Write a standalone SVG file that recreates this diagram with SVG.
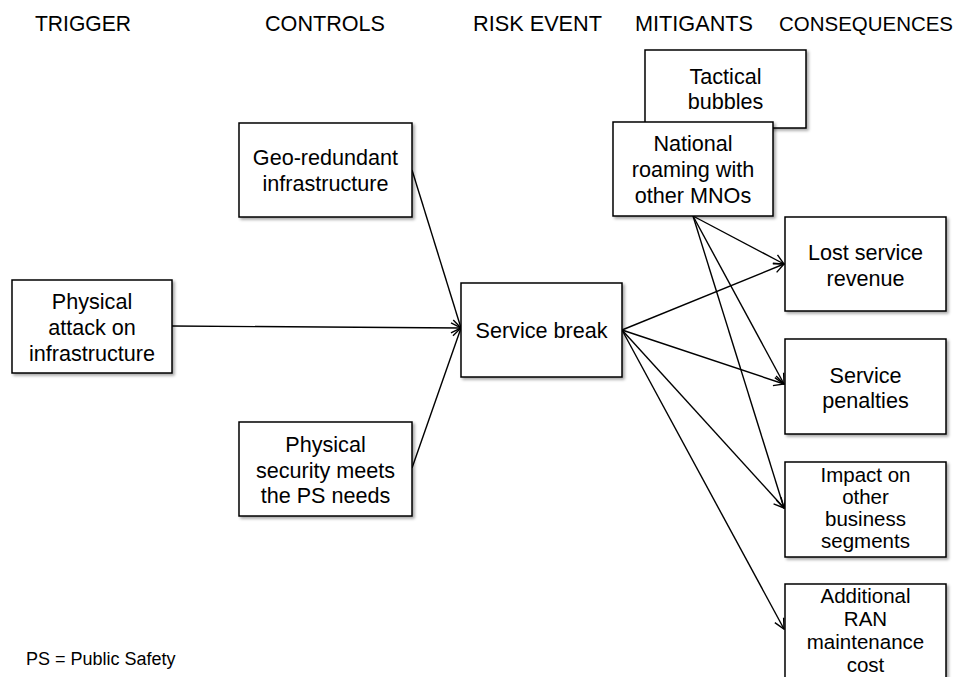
<svg xmlns="http://www.w3.org/2000/svg" width="961" height="677" viewBox="0 0 961 677">
  <style>
    .hdr { font-family: "Liberation Sans", Arial, sans-serif; font-size: 22px; fill: #000; }
    .hdr-last { font-size: 20.5px; }
    .lbl { font-family: "Liberation Sans", Arial, sans-serif; font-size: 21.6px; fill: #000; text-anchor: middle; }
    .tight { font-size: 20.5px; }
    .note { font-family: "Liberation Sans", Arial, sans-serif; font-size: 18px; fill: #000; }
    .box { fill: #fff; stroke: #000; stroke-width: 1.5; filter: url(#shadow); }
    .edge { fill: none; stroke: #000; stroke-width: 1.4; marker-end: url(#arrow); }
  </style>
  <defs>
    <filter id="shadow" x="-10%" y="-10%" width="130%" height="130%">
      <feGaussianBlur in="SourceAlpha" stdDeviation="1.5"/>
      <feOffset dx="1.5" dy="2" result="off"/>
      <feComponentTransfer><feFuncA type="linear" slope="0.35"/></feComponentTransfer>
      <feMerge><feMergeNode/><feMergeNode in="SourceGraphic"/></feMerge>
    </filter>
    <marker id="arrow" viewBox="0 0 12 12" refX="11" refY="6" markerWidth="12" markerHeight="12" markerUnits="userSpaceOnUse" orient="auto">
      <path d="M1,1 L11,6 L1,11" fill="none" stroke="#000" stroke-width="1.4"/>
    </marker>
  </defs>

  <rect width="961" height="677" fill="#fff"/>

  <!-- column headings (condensed to fit each column) -->
  <g id="headers">
    <text class="hdr" x="35" y="31" textLength="96" lengthAdjust="spacingAndGlyphs">TRIGGER</text>
    <text class="hdr" x="265" y="31" textLength="120" lengthAdjust="spacingAndGlyphs">CONTROLS</text>
    <text class="hdr" x="473" y="31" textLength="129" lengthAdjust="spacingAndGlyphs">RISK EVENT</text>
    <text class="hdr" x="635" y="31" textLength="118" lengthAdjust="spacingAndGlyphs">MITIGANTS</text>
    <text class="hdr hdr-last" x="779" y="31" textLength="174" lengthAdjust="spacingAndGlyphs">CONSEQUENCES</text>
  </g>

  <!-- connectors -->
  <g id="connectors">
    <line class="edge" x1="172" y1="326" x2="461" y2="328"/>
    <line class="edge" x1="412" y1="170" x2="461" y2="328"/>
    <line class="edge" x1="412" y1="468" x2="461" y2="328"/>
    <line class="edge" x1="622" y1="330" x2="784" y2="264"/>
    <line class="edge" x1="622" y1="330" x2="784" y2="384"/>
    <line class="edge" x1="622" y1="330" x2="784" y2="508"/>
    <line class="edge" x1="622" y1="330" x2="784" y2="629"/>
    <line class="edge" x1="693" y1="216" x2="784" y2="264"/>
    <line class="edge" x1="693" y1="216" x2="784" y2="384"/>
    <line class="edge" x1="693" y1="216" x2="784" y2="508"/>
  </g>

  <g id="trigger">
    <rect class="box" x="12" y="280" width="160" height="93"/>
    <text class="lbl" x="92" y="309">Physical</text>
    <text class="lbl" x="92" y="335">attack on</text>
    <text class="lbl" x="92" y="361">infrastructure</text>
  </g>

  <g id="control-geo">
    <rect class="box" x="239" y="123" width="173" height="94"/>
    <text class="lbl" x="325.5" y="165">Geo-redundant</text>
    <text class="lbl" x="325.5" y="191">infrastructure</text>
  </g>

  <g id="control-security">
    <rect class="box" x="239" y="422" width="173" height="94"/>
    <text class="lbl" x="325.5" y="452">Physical</text>
    <text class="lbl" x="325.5" y="477.5">security meets</text>
    <text class="lbl" x="325.5" y="503">the PS needs</text>
  </g>

  <g id="risk-event">
    <rect class="box" x="461" y="283" width="161" height="94"/>
    <text class="lbl" x="541.5" y="338">Service break</text>
  </g>

  <g id="mitigant-tactical">
    <rect class="box" x="645" y="50" width="161" height="78"/>
    <text class="lbl" x="725.5" y="84">Tactical</text>
    <text class="lbl" x="725.5" y="109">bubbles</text>
  </g>

  <g id="mitigant-roaming">
    <rect class="box" x="613" y="122" width="160" height="94"/>
    <text class="lbl" x="693" y="151">National</text>
    <text class="lbl" x="693" y="177">roaming with</text>
    <text class="lbl" x="693" y="203">other MNOs</text>
  </g>

  <g id="consequence-revenue">
    <rect class="box" x="785" y="217" width="161" height="94"/>
    <text class="lbl" x="865.5" y="260">Lost service</text>
    <text class="lbl" x="865.5" y="286">revenue</text>
  </g>

  <g id="consequence-penalties">
    <rect class="box" x="785" y="339" width="161" height="95"/>
    <text class="lbl" x="865.5" y="383">Service</text>
    <text class="lbl" x="865.5" y="408">penalties</text>
  </g>

  <g id="consequence-impact">
    <rect class="box" x="785" y="462" width="161" height="95"/>
    <text class="lbl tight" x="865.5" y="482">Impact on</text>
    <text class="lbl tight" x="865.5" y="504">other</text>
    <text class="lbl tight" x="865.5" y="526">business</text>
    <text class="lbl tight" x="865.5" y="548">segments</text>
  </g>

  <g id="consequence-ran">
    <rect class="box" x="785" y="584" width="161" height="110"/>
    <text class="lbl tight" x="865.5" y="603">Additional</text>
    <text class="lbl tight" x="865.5" y="626">RAN</text>
    <text class="lbl tight" x="865.5" y="649">maintenance</text>
    <text class="lbl tight" x="865.5" y="672">cost</text>
  </g>

  <text class="note" x="26" y="665">PS = Public Safety</text>
</svg>
